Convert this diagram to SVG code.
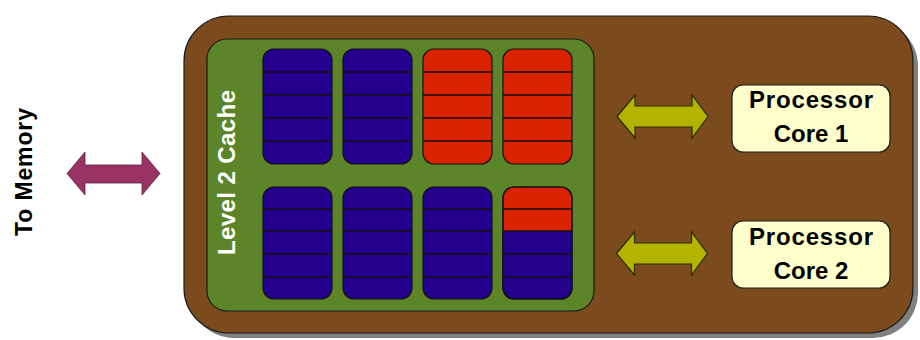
<svg xmlns="http://www.w3.org/2000/svg" xmlns:xlink="http://www.w3.org/1999/xlink" width="920" height="340" viewBox="0 0 920 340">
<style>
.outer{fill:#7b4b1d;stroke:#1a1a1a;stroke-width:1.2}
.shadow{fill:#808080}
.cache{fill:#5c8428;stroke:#1a1a1a;stroke-width:1.2}
.blue{fill:#25008f;stroke:#111;stroke-width:1.2}
.red{fill:#dc2300}
.sep{stroke:#111;stroke-width:1.5}
.core{fill:#ffffcc;stroke:#1a1a1a;stroke-width:1.2}
.yarrow{fill:#b4b400;stroke:#2a2a00;stroke-width:1.2}
.marrow{fill:#993366;stroke:#5a2040;stroke-width:0.8}
.lbl{font-family:"Liberation Sans",Arial,sans-serif;font-weight:bold}
</style>
<defs>
<path id="yar" d="M-45.5,0 L-27.5,-21.5 L-27.5,-10.5 L29.5,-10.5 L29.5,-21.5 L45.5,0 L29.5,21.5 L29.5,10.5 L-27.5,10.5 L-27.5,21.5 Z"/>
</defs>
<g id="board">
<rect class="shadow" x="189" y="21" width="729" height="317" rx="45"/>
<rect class="outer" x="184" y="16" width="729" height="317" rx="45"/>
</g>
<g id="cache">
<rect class="cache" x="207" y="39" width="387" height="272" rx="20"/>
<text class="lbl" transform="translate(235,172.5) rotate(-90)" text-anchor="middle" font-size="24" fill="#ffffff" textLength="165" lengthAdjust="spacing">Level 2 Cache</text>
</g>
<g id="block1"><rect class="blue" x="263" y="49" width="69" height="115" rx="11"/><path class="sep" d="M263,72H332M263,95H332M263,118H332M263,141H332"/></g>
<g id="block2"><rect class="blue" x="343" y="49" width="69" height="115" rx="11"/><path class="sep" d="M343,72H412M343,95H412M343,118H412M343,141H412"/></g>
<g id="block3"><rect class="blue red" x="423" y="49" width="69" height="115" rx="11"/><path class="sep" d="M423,72H492M423,95H492M423,118H492M423,141H492"/></g>
<g id="block4"><rect class="blue red" x="503" y="49" width="69" height="115" rx="11"/><path class="sep" d="M503,72H572M503,95H572M503,118H572M503,141H572"/></g>
<g id="block5"><rect class="blue" x="263" y="187" width="69" height="112" rx="11"/><path class="sep" d="M263,209H332M263,231H332M263,254H332M263,277H332"/></g>
<g id="block6"><rect class="blue" x="343" y="187" width="69" height="112" rx="11"/><path class="sep" d="M343,209H412M343,231H412M343,254H412M343,277H412"/></g>
<g id="block7"><rect class="blue" x="423" y="187" width="69" height="112" rx="11"/><path class="sep" d="M423,209H492M423,231H492M423,254H492M423,277H492"/></g>
<g id="block8">
<rect class="blue" x="503" y="187" width="69" height="112" rx="11"/>
<path class="red" d="M514,187.6H561A10.4,10.4 0 0 1 571.4,198V231H503.6V198A10.4,10.4 0 0 1 514,187.6Z"/>
<rect x="503" y="187" width="69" height="112" rx="11" fill="none" stroke="#111" stroke-width="1.2"/>
<path class="sep" d="M503,209H572M503,231H572M503,254H572M503,277H572"/>
</g>
<g id="core1">
<rect class="core" x="732" y="85" width="158" height="67" rx="11"/>
<text class="lbl" x="811" y="108" text-anchor="middle" font-size="24" fill="#000" textLength="124" lengthAdjust="spacing">Processor</text>
<text class="lbl" x="811" y="142" text-anchor="middle" font-size="24" fill="#000">Core 1</text>
</g>
<g id="core2">
<rect class="core" x="732" y="221" width="158" height="67" rx="11"/>
<text class="lbl" x="811" y="245" text-anchor="middle" font-size="24" fill="#000" textLength="124" lengthAdjust="spacing">Processor</text>
<text class="lbl" x="811" y="279" text-anchor="middle" font-size="24" fill="#000">Core 2</text>
</g>
<g id="memory">
<text class="lbl" transform="translate(32,172) rotate(-90)" text-anchor="middle" font-size="23" fill="#000" textLength="128" lengthAdjust="spacing">To Memory</text>
</g>
<g id="connectors">
<use href="#yar" xlink:href="#yar" class="yarrow" transform="translate(662.5,116.5)"/>
<use href="#yar" xlink:href="#yar" class="yarrow" transform="translate(662,253.5)"/>
<path class="marrow" d="M67,173.5 L85,152 L85,165 L142,165 L142,152 L160,173.5 L142,195 L142,183 L85,183 L85,195 Z"/>
</g>
</svg>
